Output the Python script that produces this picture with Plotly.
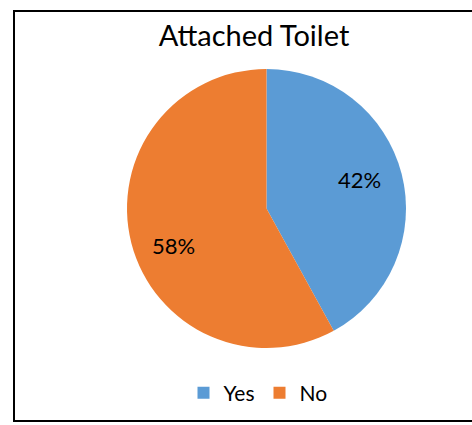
import math
import plotly.graph_objects as go

labels = ["Yes", "No"]
values = [42, 58]
colors = ["#5B9BD5", "#ED7D31"]
title_text = "Attached Toilet"

W, H = 472, 425
FONT = "Lato, Open Sans, sans-serif"

# pie geometry (pixels)
cx, cy, R = 266.5, 208.5, 139.5

fig = go.Figure(go.Pie(
    labels=labels,
    values=values,
    sort=False,
    direction="clockwise",
    rotation=0,
    marker=dict(colors=colors, line=dict(width=0)),
    textinfo="none",
    domain=dict(x=[(cx - R) / W, (cx + R) / W], y=[1 - (cy + R) / H, 1 - (cy - R) / H]),
    hoverinfo="label+percent",
))

# data labels placed near the mid-angle of each slice
total = sum(values)
annotations = []
acc = 0
for v in values:
    mid = (acc + v / 2) / total * 2 * math.pi - math.radians(5)
    acc += v
    r = 0.71 * R
    px = cx + r * math.sin(mid)
    py = cy - r * math.cos(mid) + 4
    annotations.append(dict(
        x=px / W, y=1 - py / H, xref="paper", yref="paper",
        text=f"{round(v / total * 100)}%", showarrow=False,
        xanchor="center", yanchor="middle",
        font=dict(family=FONT, size=22, color="#000000"),
    ))

fig.update_layout(
    width=W, height=H,
    margin=dict(l=0, r=0, t=0, b=0),
    paper_bgcolor="white",
    plot_bgcolor="white",
    title=dict(text=title_text, x=254 / W, xanchor="center", y=1 - 36 / H, yanchor="middle",
               font=dict(family=FONT, size=29, color="#000000")),
    showlegend=True,
    legend=dict(orientation="h", x=258 / W, xanchor="center", y=1 - 393 / H, yanchor="middle",
                font=dict(family=FONT, size=21, color="#000000"),
                itemsizing="constant", itemwidth=30),
    annotations=annotations,
    shapes=[dict(type="rect", xref="paper", yref="paper",
                 x0=14 / W, x1=1.05, y0=1 - 421 / H, y1=1 - 11 / H,
                 line=dict(color="#000000", width=2), fillcolor="rgba(0,0,0,0)")],
)

fig.write_html("out.html", config={"displayModeBar": False},
               post_script="document.body.style.margin='0';")
